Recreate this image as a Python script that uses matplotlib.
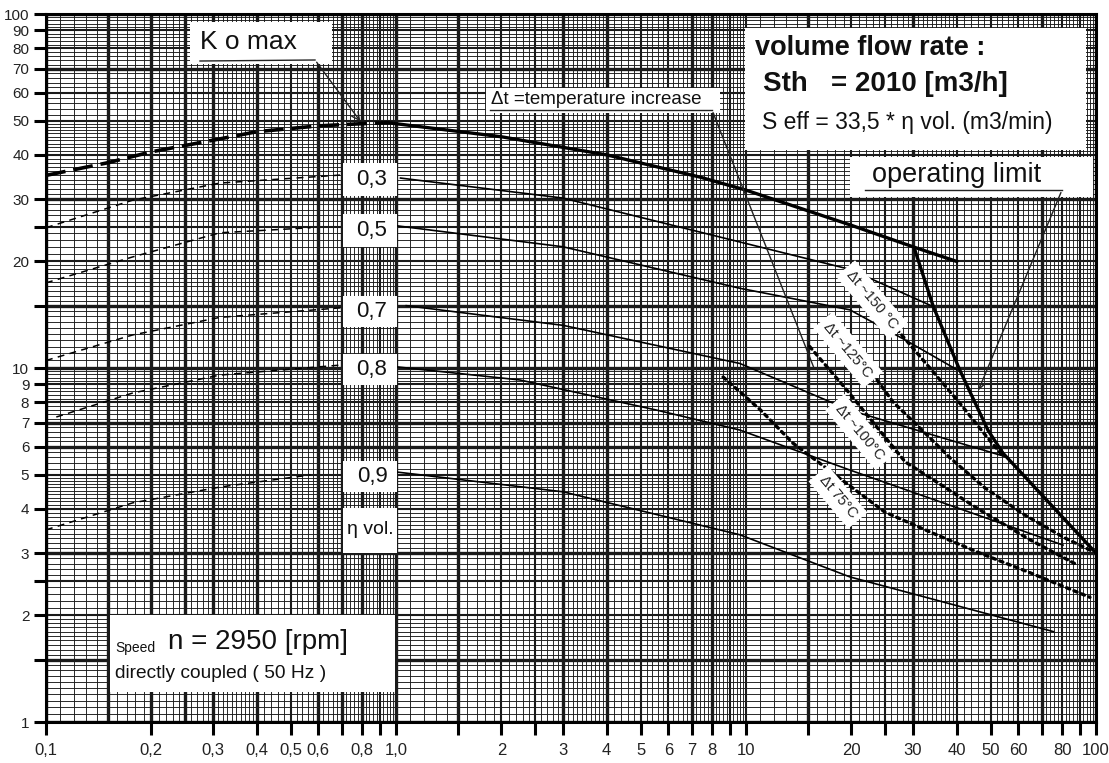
import numpy as np
import matplotlib.pyplot as plt
from matplotlib.patches import Rectangle
from matplotlib.ticker import NullLocator

plt.rcParams['font.family'] = ['Liberation Sans', 'DejaVu Sans']

# ===== DATA =====
komax_rise_x = [0.1, 0.15, 0.2, 0.3, 0.4, 0.6, 0.8, 0.95]
komax_rise_y = [35, 38, 40.8, 44, 46.5, 48.3, 49, 49.3]
komax_x = [0.95, 2, 4, 7.4, 10, 20, 30, 40]
komax_y = [49.3, 45, 40, 34.6, 31.8, 25.3, 22, 20]

eta_labels = ["0,3", "0,5", "0,7", "0,8", "0,9"]

eta03_rise_x = [0.1, 0.177, 0.314, 0.70]
eta03_rise_y = [24.9, 29.8, 33.3, 35.1]
eta05_rise_x = [0.1, 0.177, 0.314, 0.57]
eta05_rise_y = [17.4, 20.6, 24.1, 24.9]
eta07_rise_x = [0.1, 0.177, 0.314, 0.70]
eta07_rise_y = [10.5, 12.4, 13.9, 14.8]
eta08_rise_x = [0.107, 0.177, 0.314, 0.70]
eta08_rise_y = [7.27, 8.5, 9.55, 10.2]
eta09_rise_x = [0.1, 0.177, 0.314, 0.57]
eta09_rise_y = [3.49, 4.16, 4.61, 4.99]

eta03_x = [1.03, 3.0, 9.6, 19.8, 34.3]
eta03_y = [34.4, 30.2, 22.7, 19.0, 14.9]
eta05_x = [1.01, 3.0, 9.6, 19.8, 28.5, 40.0]
eta05_y = [25.2, 22.0, 16.8, 14.6, 12.0, 9.9]
eta07_x = [1.07, 3.0, 9.6, 19.8, 55.7]
eta07_y = [15.0, 13.2, 10.3, 7.6, 5.6]
eta08_x = [1.01, 2.26, 5.57, 9.6, 19.8, 80.5]
eta08_y = [10.07, 9.25, 7.6, 6.68, 5.15, 3.16]
eta09_x = [1.01, 3.0, 9.6, 19.8, 75.6]
eta09_y = [5.08, 4.47, 3.38, 2.57, 1.80]

limit_x = [30.4, 34.3, 40.8, 49.1, 54.2, 100]
limit_y = [21.5, 14.9, 9.87, 6.68, 5.75, 3.0]

dt150_x = [20.5, 30.4, 40.8, 48.8, 54.2]
dt150_y = [17.7, 11.2, 7.96, 6.38, 5.64]
dt125_x = [17.4, 26.3, 31.4, 38.3, 48.2, 62.7, 81.5, 96.1]
dt125_y = [14.1, 8.02, 6.77, 5.57, 4.58, 3.84, 3.31, 3.06]
dt100_x = [15.2, 19.4, 28.5, 35.8, 46.6, 64.8, 88.3]
dt100_y = [11.5, 8.67, 5.43, 4.7, 3.97, 3.27, 2.78]
dt75_x = [8.6, 11.0, 13.6, 16.8, 24.9, 33.6, 46.6, 64.8, 96.1]
dt75_y = [9.43, 7.61, 6.14, 5.25, 3.92, 3.44, 3.0, 2.64, 2.25]
dt_labels = ["Δt ~150 °C", "Δt ~125°C", "Δt ~100°C", "Δt 75°C"]

x_ticks = [0.1, 0.2, 0.3, 0.4, 0.5, 0.6, 0.7, 0.8, 0.9, 1.0,
           1.5, 2, 2.5, 3, 4, 5, 6, 7, 8, 9, 10,
           15, 20, 25, 30, 40, 50, 60, 70, 80, 90, 100]
x_tick_labels = ["0,1", "0,2", "0,3", "0,4", "0,5", "0,6", "", "0,8", "", "1,0",
                 "", "2", "", "3", "4", "5", "6", "7", "8", "", "10",
                 "", "20", "", "30", "40", "50", "60", "", "80", "", "100"]
y_ticks = [1, 1.5, 2, 2.5, 3, 4, 5, 6, 7, 8, 9, 10,
           15, 20, 25, 30, 40, 50, 60, 70, 80, 90, 100]
y_tick_labels = ["1", "", "2", "", "3", "4", "5", "6", "7", "8", "9", "10",
                 "", "20", "", "30", "40", "50", "60", "70", "80", "90", "100"]

# ===== CANVAS =====
W, H = 1109, 763
X0, X1, Y0, Y1 = 46, 1096, 14, 722
fig = plt.figure(figsize=(W / 100, H / 100), dpi=100)
ax = fig.add_axes([X0 / W, (H - Y1) / H, (X1 - X0) / W, (Y1 - Y0) / H])
ax.set_xscale("log")
ax.set_yscale("log")
ax.set_xlim(0.1, 100)
ax.set_ylim(1, 100)


def fx(px):
    return (px - X0) / (X1 - X0)


def fy(py):
    return (Y1 - py) / (Y1 - Y0)


# ===== LOG PAPER GRID =====
def decades(mants, exps):
    return sorted({round(m * 10.0 ** e, 6) for e in exps for m in mants})


x_thin = decades(np.round(np.r_[np.arange(1, 4, 0.1), np.arange(4, 10, 0.2)], 3), [-1, 0, 1])
y_thin = decades(np.round(np.r_[np.arange(1, 2, 0.05), np.arange(2, 5, 0.1),
                               np.arange(5, 10, 0.2)], 3), [0, 1])
x_mid = [0.5, 0.9, 2, 2.5, 5, 6, 9, 10, 20, 25, 40, 50, 60, 80, 90]
x_thick = [0.1, 0.15, 0.2, 0.25, 0.3, 0.4, 0.6, 0.7, 0.8, 1.0, 1.5, 3, 4, 7, 8, 15, 30, 70, 100]
y_mid = [2, 2.5, 4, 5, 8, 9, 20, 25, 40, 50, 60, 80, 90]
y_thick = [1, 1.5, 3, 6, 7, 10, 15, 30, 70, 100]

xt = ax.get_xaxis_transform()
yt = ax.get_yaxis_transform()
for vals, lw in [(x_thin, 0.65), (x_mid, 1.5), (x_thick, 2.4)]:
    ax.vlines(vals, 0, 1, transform=xt, colors="#1a1a1a", linewidth=lw, zorder=1)
for vals, lw in [(y_thin, 0.65), (y_mid, 1.5), (y_thick, 2.4)]:
    ax.hlines(vals, 0, 1, transform=yt, colors="#1a1a1a", linewidth=lw, zorder=1)

# ===== CURVES =====
ax.plot(komax_rise_x, komax_rise_y, color="black", lw=2.6, dashes=(5.5, 2.2), zorder=3)
ax.plot(komax_x, komax_y, color="black", lw=2.4, zorder=3)

rises = [(eta03_rise_x, eta03_rise_y), (eta05_rise_x, eta05_rise_y), (eta07_rise_x, eta07_rise_y),
         (eta08_rise_x, eta08_rise_y), (eta09_rise_x, eta09_rise_y)]
falls = [(eta03_x, eta03_y), (eta05_x, eta05_y), (eta07_x, eta07_y),
         (eta08_x, eta08_y), (eta09_x, eta09_y)]
for rx, ry in rises:
    ax.plot(rx, ry, color="black", lw=1.1, dashes=(4.5, 3.5), zorder=3)
for sx, sy in falls:
    ax.plot(sx, sy, color="black", lw=1.2, zorder=3)

ax.plot(limit_x, limit_y, color="black", lw=2.4, zorder=3)

for dx, dy in [(dt150_x, dt150_y), (dt125_x, dt125_y), (dt100_x, dt100_y), (dt75_x, dt75_y)]:
    ax.plot(dx, dy, color="black", lw=2.4, linestyle=(0, (1, 1.4)),
            dash_capstyle="round", zorder=3)


# ===== WHITE LABEL BOXES =====
def box(px0, py0, px1, py1):
    ax.add_patch(Rectangle((fx(px0), fy(py1)), fx(px1) - fx(px0), fy(py0) - fy(py1),
                           transform=ax.transAxes, facecolor="white", edgecolor="none",
                           zorder=4))


box(190, 22, 332, 64)
box(486, 88, 720, 113)
box(745, 28, 1086, 150)
box(850, 157, 1093, 197)
box(110, 615, 395, 692)
eta_box_y = [(163, 196), (214, 247), (296, 327), (354, 385), (461, 492)]
for lab, (b0, b1) in zip(eta_labels, eta_box_y):
    box(343, b0, 397, b1)
    ax.text(fx(372), fy((b0 + b1) / 2), lab, transform=ax.transAxes, ha="center",
            va="center", fontsize=16, color="#111", zorder=5)
box(343, 508, 397, 553)
ax.text(fx(370), fy(530), "η vol.", transform=ax.transAxes, ha="center", va="center",
        fontsize=14, color="#111", zorder=5)

# ===== TEXTS =====
tk = dict(transform=ax.transAxes, color="#111", zorder=5, va="center", ha="left")
ax.text(fx(200), fy(42), "K o max", fontsize=19, **tk)
ax.text(fx(491), fy(99), "Δt =temperature increase", fontsize=13.5, **tk)
ax.text(fx(755), fy(48), "volume flow rate :", fontsize=19.5, fontweight="bold", **tk)
ax.text(fx(763), fy(84), "Sth   = 2010 [m3/h]", fontsize=20, fontweight="bold", **tk)
ax.text(fx(762), fy(122), "S eff = 33,5 * η vol. (m3/min)", fontsize=16.5, **tk)
ax.text(fx(872), fy(175), "operating limit", fontsize=19.5, **tk)
ax.text(fx(115), fy(648), "Speed", fontsize=10, **tk)
ax.text(fx(168), fy(642), "n = 2950 [rpm]", fontsize=20, **tk)
ax.text(fx(115), fy(673), "directly coupled ( 50 Hz )", fontsize=13.8, **tk)

for lab, (px, py) in zip(dt_labels, [(872, 300), (848, 350), (860, 432), (838, 497)]):
    ax.text(fx(px), fy(py), lab, transform=ax.transAxes, rotation=-50, ha="center",
            va="center", fontsize=10.5, color="#222", zorder=5,
            bbox=dict(facecolor="white", edgecolor="none", pad=4))

# leaders
lk = dict(transform=ax.transAxes, color="#222", lw=1.0, zorder=5)
ax.plot([fx(200), fx(315)], [fy(61), fy(60)], **lk)
ax.annotate("", xy=(komax_rise_x[6], komax_rise_y[6]), xycoords="data",
            xytext=(fx(315), fy(60)), textcoords="axes fraction",
            arrowprops=dict(arrowstyle="->", color="#222", lw=1.0, mutation_scale=14),
            zorder=5)
ax.plot([fx(490), fx(712)], [fy(110), fy(110)], **lk)
ax.annotate("", xy=(15.7, 9.9), xycoords="data", xytext=(fx(712), fy(110)),
            textcoords="axes fraction",
            arrowprops=dict(arrowstyle="-", color="#222", lw=1.0), zorder=5)
ax.plot([fx(865), fx(1062)], [fy(190), fy(190)], **lk)
ax.annotate("", xy=(45.8, 8.5), xycoords="data", xytext=(fx(1062), fy(190)),
            textcoords="axes fraction",
            arrowprops=dict(arrowstyle="->", color="#222", lw=1.0, mutation_scale=12),
            zorder=5)

# ===== AXES / TICKS =====
ax.xaxis.set_minor_locator(NullLocator())
ax.yaxis.set_minor_locator(NullLocator())
ax.set_xticks(x_ticks, x_tick_labels)
ax.set_yticks(y_ticks, y_tick_labels)
ax.tick_params(direction="out", length=9, width=2.2, color="black",
               labelcolor="#222", pad=3)
ax.tick_params(axis="x", pad=6, labelsize=12)
ax.tick_params(axis="y", labelsize=11)
for s in ax.spines.values():
    s.set_linewidth(2.2)
    s.set_zorder(2)

fig.savefig("out.png", dpi=100, facecolor="white")
print("out.png")
